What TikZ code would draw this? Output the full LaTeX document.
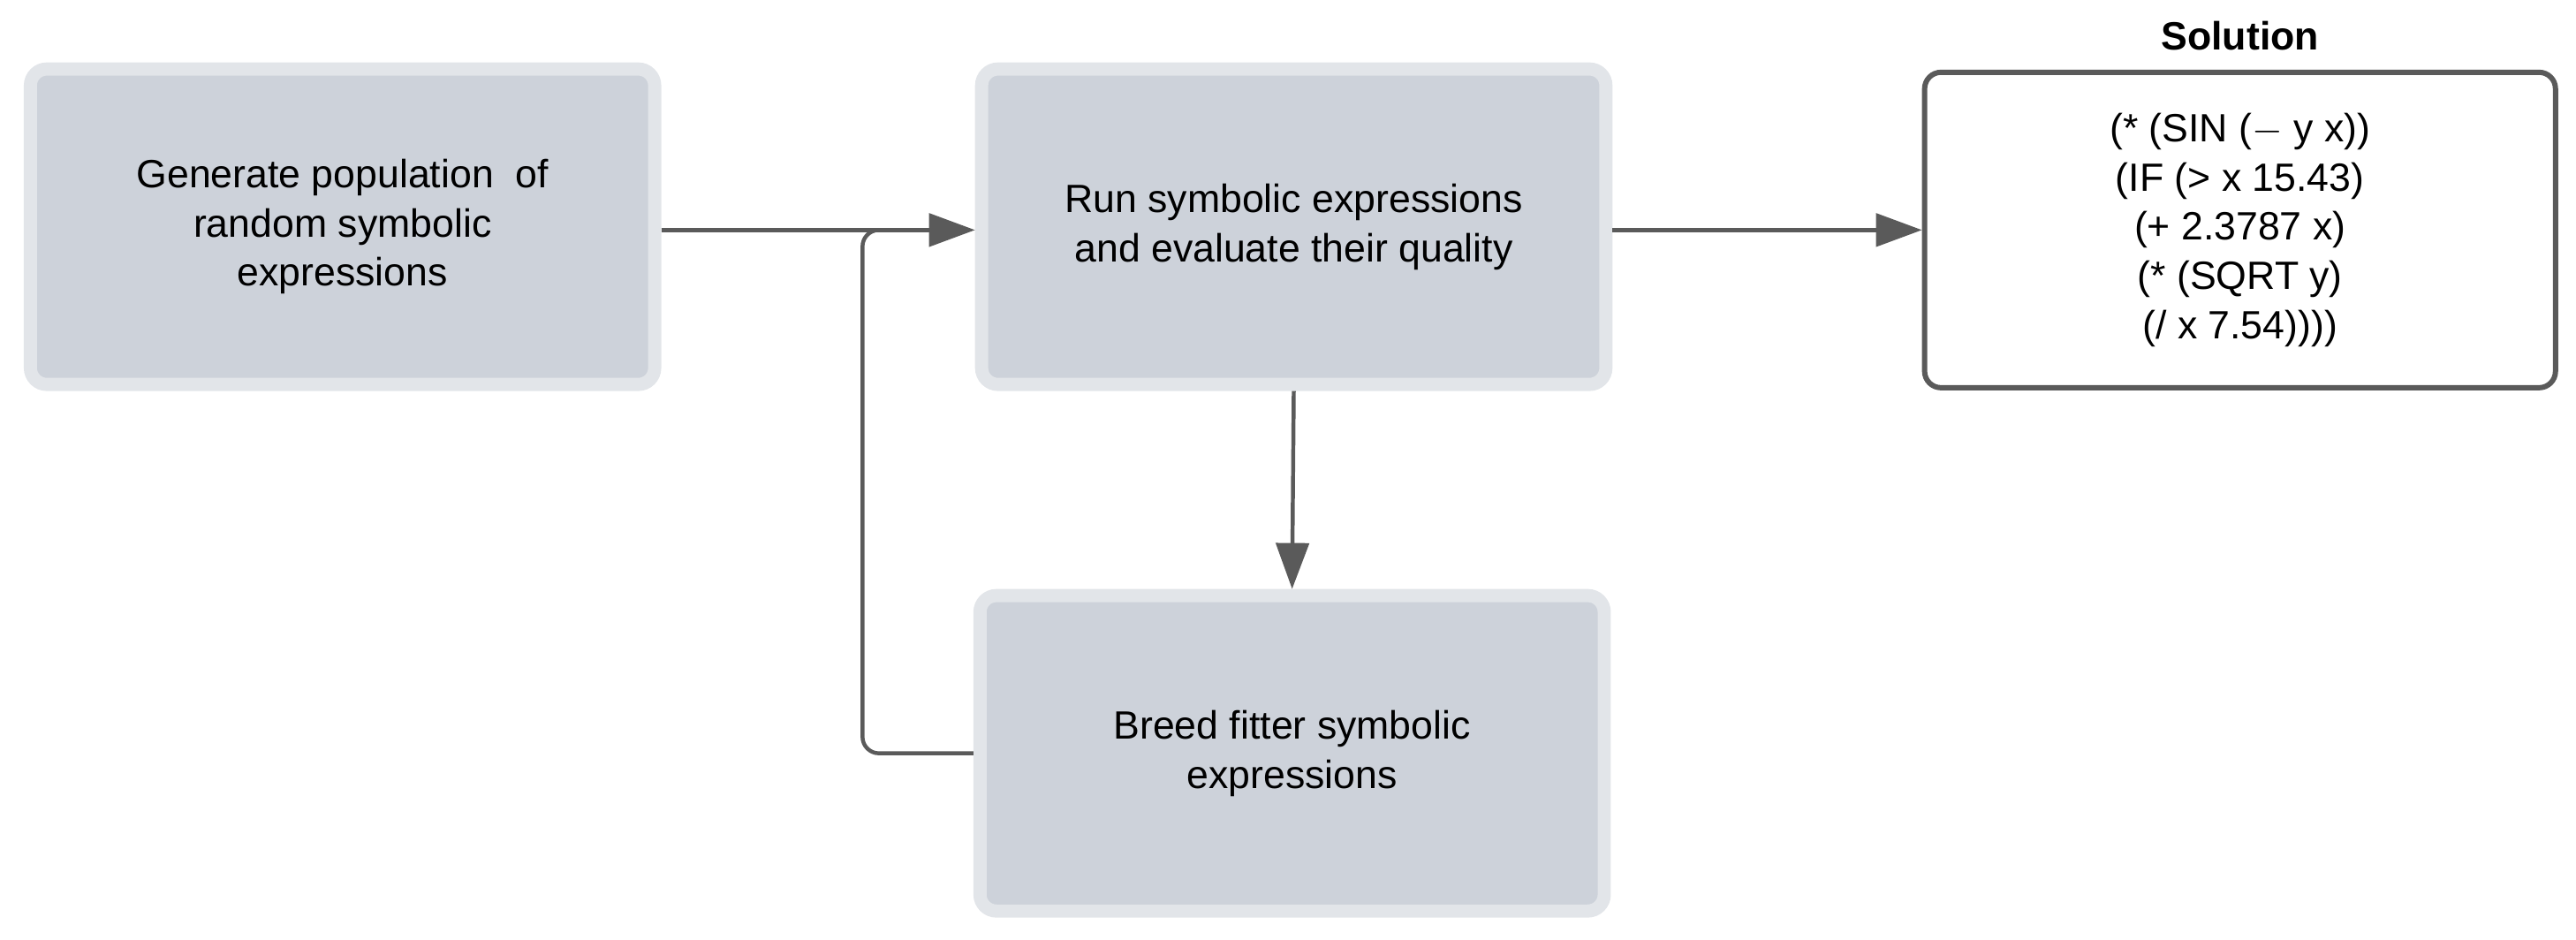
\documentclass[tikz,border=0pt]{standalone}
\usepackage{fontspec}
\setmainfont{Liberation Sans}
\usetikzlibrary{arrows.meta}
\definecolor{boxfill}{HTML}{CDD2DA}
\definecolor{boxedge}{HTML}{E2E5E9}
\definecolor{ln}{HTML}{5A5A5A}
\begin{document}
\begin{tikzpicture}[x=0.5pt,y=-0.5pt,
  proc/.style={draw=boxedge,line width=4pt,fill=boxfill,rounded corners=5pt,
    minimum width=190pt,minimum height=96pt,align=center,font=\fontsize{12}{15}\selectfont},
  sol/.style={draw=ln,line width=1.6pt,fill=white,rounded corners=5pt,
    minimum width=192pt,minimum height=96pt,align=center,font=\fontsize{12}{15}\selectfont},
  conn/.style={draw=ln,line width=1.2pt,-{Triangle[length=14pt,width=10pt]}}]
\useasboundingbox (0,0) rectangle (1568,572);
\node[proc] (gen) at (208.5,138) {Generate population\ \ of\\random symbolic\\expressions};
\node[proc] (run) at (787.5,138) {Run symbolic expressions\\and evaluate their quality};
\node[proc] (breed) at (786.5,458.5) {Breed fitter symbolic\\expressions};
\node[sol] (solb) at (1363.5,140) {(* (SIN ($-$ y x))\\(IF (> x 15.43)\\(+ 2.3787 x)\\(* (SQRT y)\\(/ x 7.54))))};
\node[font=\bfseries\fontsize{12}{14}\selectfont] (title) at (1363.5,22) {Solution};
\coordinate (j) at (525,140);
\draw[conn] (gen.east |- 0,140) -- (run.west |- 0,140);
\draw[conn] (run.east |- 0,140) -- (solb.west |- 0,140);
\draw[conn] (run.south) -- (breed.north);
\draw[draw=ln,line width=1.2pt,rounded corners=5pt] (breed.west) -- (525,458.5) -- (j) -- (540,140);
\end{tikzpicture}
\end{document}
